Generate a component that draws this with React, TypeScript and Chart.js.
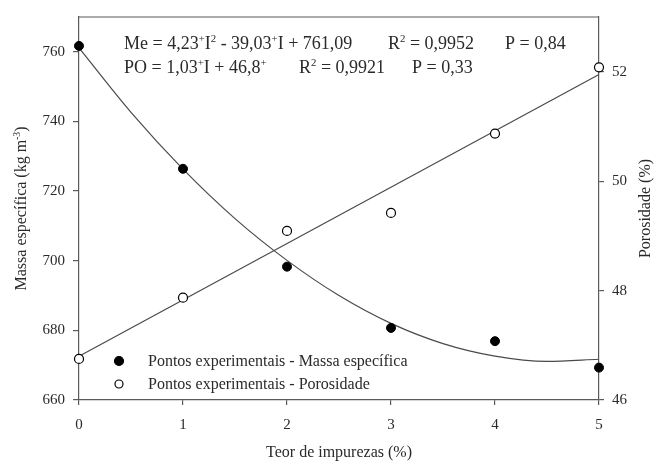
import { useEffect, useRef } from "react";
import { Chart, registerables, Plugin } from "chart.js";

Chart.register(...registerables);

// experimental points
const IMPUREZA = [0, 1, 2, 3, 4, 5];
const MASSA = [761.7, 726.4, 698.3, 680.7, 676.9, 669.3];
const POROSIDADE = [46.75, 47.87, 49.09, 49.42, 50.87, 52.08];

// fitted curves
const CURVE_X = [0, 0.5, 1, 1.5, 2, 2.5, 3, 3.5, 4, 4.5, 5];
const CURVE_MASSA = [761.1, 742.6, 726.3, 712.1, 700.1, 690.0, 682.0, 676.2, 672.6, 671.1, 671.7];
const LINE_X = [0, 5];
const LINE_POROSIDADE = [46.8, 51.95];

const X_TICKS = [0, 1, 2, 3, 4, 5];
const MASSA_TICKS = [660, 680, 700, 720, 740, 760];
const POROSIDADE_TICKS = [46, 48, 50, 52];

const LEGEND_LABELS = [
  "Pontos experimentais - Massa específica",
  "Pontos experimentais - Porosidade",
];

type Seg = { t: string; sup?: boolean };

const EQ_ME: Seg[] = [
  { t: "Me = 4,23" }, { t: "+", sup: true }, { t: "I" }, { t: "2", sup: true },
  { t: " - 39,03" }, { t: "+", sup: true }, { t: "I + 761,09" },
];
const EQ_ME_R2: Seg[] = [{ t: "R" }, { t: "2", sup: true }, { t: " = 0,9952" }];
const EQ_ME_P: Seg[] = [{ t: "P = 0,84" }];
const EQ_PO: Seg[] = [
  { t: "PO = 1,03" }, { t: "+", sup: true }, { t: "I + 46,8" }, { t: "+", sup: true },
];
const EQ_PO_R2: Seg[] = [{ t: "R" }, { t: "2", sup: true }, { t: " = 0,9921" }];
const EQ_PO_P: Seg[] = [{ t: "P = 0,33" }];

const X_TITLE: Seg[] = [{ t: "Teor de impurezas (%)" }];
const Y_TITLE: Seg[] = [{ t: "Massa específica (kg m" }, { t: "-3", sup: true }, { t: ")" }];
const Y1_TITLE: Seg[] = [{ t: "Porosidade (%)" }];

const SERIF = "'Liberation Serif', 'Times New Roman', serif";
const TEXT = "#2a2a2a";
const AXIS = "#5a5a5a";

function font(size: number) {
  return `${size}px ${SERIF}`;
}

function richWidth(ctx: CanvasRenderingContext2D, segs: Seg[], size: number) {
  let w = 0;
  for (const s of segs) {
    ctx.font = font(s.sup ? size * 0.6 : size);
    w += ctx.measureText(s.t).width;
  }
  return w;
}

function drawRich(
  ctx: CanvasRenderingContext2D,
  segs: Seg[],
  x: number,
  y: number,
  size: number,
  center = false
) {
  let cx = center ? x - richWidth(ctx, segs, size) / 2 : x;
  ctx.textBaseline = "alphabetic";
  ctx.textAlign = "left";
  for (const s of segs) {
    const sz = s.sup ? size * 0.6 : size;
    ctx.font = font(sz);
    ctx.fillText(s.t, cx, s.sup ? y - size * 0.38 : y);
    cx += ctx.measureText(s.t).width;
  }
}

const annotations: Plugin = {
  id: "annotations",
  afterDatasetsDraw(chart) {
    const { ctx, chartArea } = chart;
    const { left, right, top, bottom } = chartArea;
    ctx.save();

    // top frame line
    ctx.strokeStyle = AXIS;
    ctx.lineWidth = 1.2;
    ctx.beginPath();
    ctx.moveTo(left, top);
    ctx.lineTo(right, top);
    ctx.stroke();

    ctx.fillStyle = TEXT;
    drawRich(ctx, EQ_ME, left + 45, top + 32, 18);
    drawRich(ctx, EQ_ME_R2, left + 309, top + 32, 18);
    drawRich(ctx, EQ_ME_P, left + 426, top + 32, 18);
    drawRich(ctx, EQ_PO, left + 45, top + 56, 18);
    drawRich(ctx, EQ_PO_R2, left + 220, top + 56, 18);
    drawRich(ctx, EQ_PO_P, left + 333, top + 56, 18);

    // legend
    const rows = [bottom - 39, bottom - 16];
    rows.forEach((cy, i) => {
      ctx.beginPath();
      ctx.arc(left + 40, cy, i === 0 ? 4.5 : 4, 0, Math.PI * 2);
      ctx.fillStyle = i === 0 ? "#000" : "#fff";
      ctx.fill();
      ctx.strokeStyle = "#000";
      ctx.lineWidth = 1.2;
      ctx.stroke();
      ctx.fillStyle = TEXT;
      ctx.font = font(16);
      ctx.textAlign = "left";
      ctx.textBaseline = "alphabetic";
      ctx.fillText(LEGEND_LABELS[i], left + 69, cy + 5);
    });

    // axis titles
    drawRich(ctx, X_TITLE, (left + right) / 2, 457, 16, true);

    ctx.save();
    ctx.translate(26, (top + bottom) / 2);
    ctx.rotate(-Math.PI / 2);
    drawRich(ctx, Y_TITLE, 0, 0, 16, true);
    ctx.restore();

    ctx.save();
    ctx.translate(650, (top + bottom) / 2);
    ctx.rotate(-Math.PI / 2);
    drawRich(ctx, Y1_TITLE, 0, 0, 16, true);
    ctx.restore();

    ctx.restore();
  },
};

function pts(xs: number[], ys: number[]) {
  return xs.map((x, i) => ({ x, y: ys[i] }));
}

export default function App() {
  const canvasRef = useRef<HTMLCanvasElement>(null);

  useEffect(() => {
    document.body.style.margin = "0";
    if (!canvasRef.current) return;
    const ctx = canvasRef.current.getContext("2d");
    if (!ctx) return;

    Chart.defaults.font.family = SERIF;
    Chart.defaults.color = TEXT;

    const chart = new Chart(ctx, {
      type: "scatter",
      data: {
        datasets: [
          {
            label: "Massa",
            data: pts(IMPUREZA, MASSA),
            yAxisID: "y",
            pointRadius: 4.5,
            pointBackgroundColor: "#000",
            pointBorderColor: "#000",
            pointBorderWidth: 1,
            showLine: false,
            clip: false,
          },
          {
            label: "Porosidade",
            data: pts(IMPUREZA, POROSIDADE),
            yAxisID: "y1",
            pointRadius: 4.5,
            pointBackgroundColor: "#fff",
            pointBorderColor: "#000",
            pointBorderWidth: 1.2,
            showLine: false,
            clip: false,
          },
          {
            label: "Curva massa",
            data: pts(CURVE_X, CURVE_MASSA),
            yAxisID: "y",
            showLine: true,
            pointRadius: 0,
            borderColor: "#4a4a4a",
            borderWidth: 1.2,
            cubicInterpolationMode: "monotone",
            clip: false,
          },
          {
            label: "Reta porosidade",
            data: pts(LINE_X, LINE_POROSIDADE),
            yAxisID: "y1",
            showLine: true,
            pointRadius: 0,
            borderColor: "#4a4a4a",
            borderWidth: 1.2,
            clip: false,
          },
        ],
      },
      options: {
        animation: false,
        responsive: true,
        maintainAspectRatio: false,
        layout: { padding: { top: 15, left: 0, right: 0, bottom: 0 } },
        plugins: {
          legend: { display: false },
          tooltip: { enabled: false },
        },
        scales: {
          x: {
            type: "linear",
            min: 0,
            max: 5,
            afterBuildTicks: (s) => {
              s.ticks = X_TICKS.map((value) => ({ value }));
            },
            afterFit: (s) => {
              s.height = 64;
            },
            ticks: { font: { size: 15 }, padding: 11, color: TEXT },
            grid: { drawOnChartArea: false, tickLength: 5, color: AXIS, lineWidth: 1.2 },
            border: { color: AXIS, width: 1.2 },
          },
          y: {
            type: "linear",
            position: "left",
            min: 660,
            max: 770,
            afterBuildTicks: (s) => {
              s.ticks = MASSA_TICKS.map((value) => ({ value }));
            },
            afterFit: (s) => {
              s.width = 79;
            },
            ticks: { font: { size: 15 }, padding: 8, color: TEXT },
            grid: { drawOnChartArea: false, tickLength: 6, color: AXIS, lineWidth: 1.2 },
            border: { color: AXIS, width: 1.2 },
          },
          y1: {
            type: "linear",
            position: "right",
            min: 46,
            max: 53,
            afterBuildTicks: (s) => {
              s.ticks = POROSIDADE_TICKS.map((value) => ({ value }));
            },
            afterFit: (s) => {
              s.width = 59;
            },
            ticks: { font: { size: 15 }, padding: 8, color: TEXT },
            grid: { drawOnChartArea: false, tickLength: 5, color: AXIS, lineWidth: 1.2 },
            border: { color: AXIS, width: 1.2 },
          },
        },
      },
      plugins: [annotations],
    });

    return () => {
      chart.destroy();
    };
  }, []);

  return (
    <div style={{ width: 658, height: 464, position: "relative", background: "#fff" }}>
      <canvas ref={canvasRef} />
    </div>
  );
}
